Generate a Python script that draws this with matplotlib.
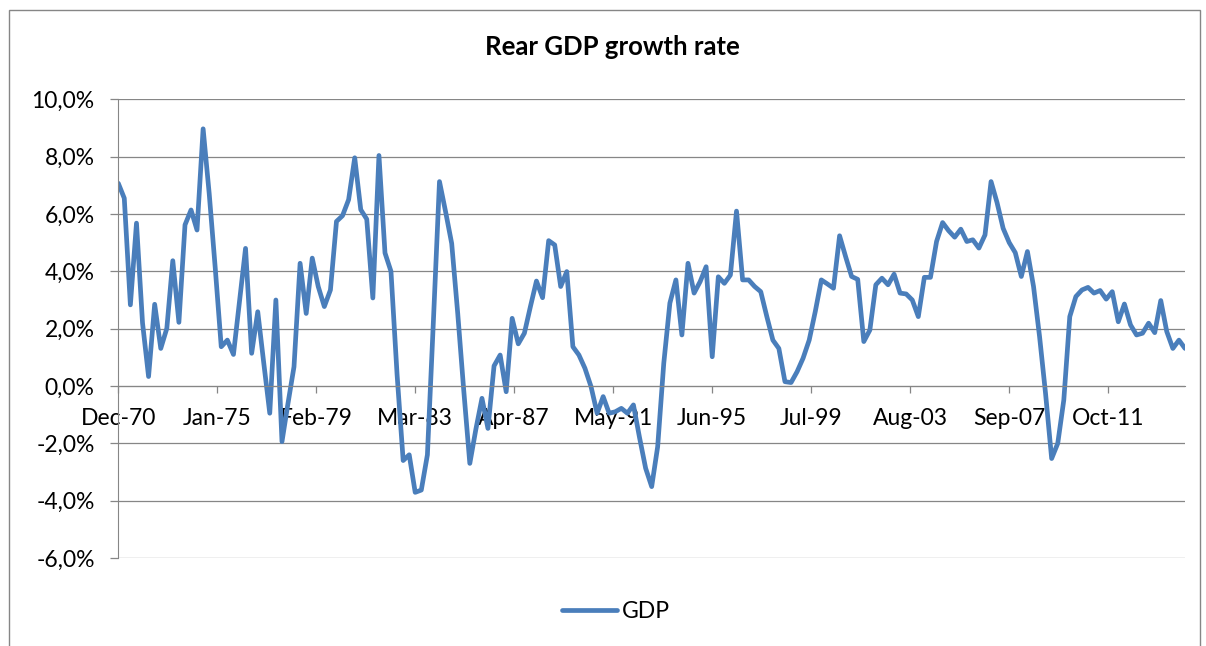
"""
Rear GDP growth rate, quarterly, Dec-70 to Dec-14 (Excel-style line chart)
"""
import pandas as pd

import matplotlib
matplotlib.use("agg")  # noqa: E402
import matplotlib.pyplot as plt
import matplotlib.dates as mdates
from matplotlib.patches import Rectangle
from matplotlib.ticker import FuncFormatter

plt.rcParams['font.family'] = ['Lato', 'DejaVu Sans']

TITLE = "Rear GDP growth rate"
SERIES_NAME = "GDP"
FIRST_QUARTER = "1970-12-01"
LAST_QUARTER = "2014-12-01"

# quarterly growth rate in %
gdp_growth = [
    7.07, 6.55, 2.83, 5.68, 2.2, 0.33, 2.85, 1.31, 2.01, 4.37,
    2.22, 5.62, 6.14, 5.44, 8.97, 6.7, 4.1, 1.37, 1.6, 1.1,
    2.94, 4.8, 1.14, 2.59, 0.79, -0.95, 3.0, -1.94, -0.6, 0.67,
    4.28, 2.53, 4.46, 3.47, 2.77, 3.35, 5.74, 5.94, 6.5, 7.96,
    6.15, 5.82, 3.07, 8.04, 4.64, 4.0, 0.4, -2.6, -2.4, -3.71,
    -3.63, -2.4, 2.3, 7.13, 6.08, 4.97, 2.53, -0.14, -2.7, -1.5,
    -0.43, -1.48, 0.7, 1.08, -0.2, 2.36, 1.47, 1.84, 2.77, 3.66,
    3.08, 5.07, 4.92, 3.47, 3.99, 1.37, 1.08, 0.62, -0.02, -0.95,
    -0.37, -0.95, -0.9, -0.78, -0.95, -0.66, -1.8, -2.87, -3.51, -2.12,
    0.79, 2.89, 3.7, 1.78, 4.28, 3.24, 3.64, 4.16, 1.02, 3.81,
    3.58, 3.87, 6.1, 3.7, 3.7, 3.47, 3.29, 2.42, 1.6, 1.31,
    0.15, 0.12, 0.5, 0.97, 1.6, 2.6, 3.7, 3.56, 3.41, 5.24,
    4.51, 3.82, 3.72, 1.55, 1.95, 3.53, 3.76, 3.53, 3.9, 3.24,
    3.21, 3.0, 2.42, 3.79, 3.79, 5.04, 5.7, 5.42, 5.19, 5.47,
    5.04, 5.1, 4.81, 5.27, 7.13, 6.4, 5.5, 5.0, 4.65, 3.82,
    4.69, 3.47, 1.72, -0.26, -2.53, -2.0, -0.49, 2.42, 3.12, 3.35,
    3.44, 3.24, 3.33, 3.03, 3.29, 2.24, 2.86, 2.13, 1.78, 1.84,
    2.19, 1.86, 2.98, 1.9, 1.31, 1.6, 1.31,
]

x_tick_labels = ["Dec-70", "Jan-75", "Feb-79", "Mar-83", "Apr-87", "May-91",
                 "Jun-95", "Jul-99", "Aug-03", "Sep-07", "Oct-11"]
y_ticks = [-6, -4, -2, 0, 2, 4, 6, 8, 10]

GRID = "#868686"
BLUE = "#4A7EBB"


def pct_comma(v, pos=None):
    return f"{v:.1f}%".replace(".", ",")


def main():
    quarters = pd.date_range(FIRST_QUARTER, LAST_QUARTER, freq="3MS")
    tick_dates = pd.to_datetime(x_tick_labels, format="%b-%y")

    W, H = 1206, 646
    fig = plt.figure(figsize=(W / 100, H / 100), dpi=100)
    left, right, top, bottom = 118.3, 1185, 99.3, 558
    ax = fig.add_axes([left / W, 1 - bottom / H,
                       (right - left) / W, (bottom - top) / H])

    ax.plot(quarters, gdp_growth, color=BLUE, lw=3.4,
            solid_joinstyle="round", solid_capstyle="round",
            label=SERIES_NAME)

    ax.set_xlim(quarters[0], quarters[-1])
    ax.set_ylim(y_ticks[0], y_ticks[-1])
    ax.set_yticks(y_ticks)
    ax.yaxis.set_major_formatter(FuncFormatter(pct_comma))
    ax.set_xticks(tick_dates)
    ax.xaxis.set_major_formatter(mdates.DateFormatter("%b-%y"))

    ax.yaxis.grid(True, color=GRID, lw=0.9)
    ax.set_axisbelow(True)
    for side in ("top", "right"):
        ax.spines[side].set_visible(False)
    ax.spines["bottom"].set_position(("data", 0))
    ax.spines["bottom"].set_color(GRID)
    ax.spines["left"].set_color(GRID)
    ax.tick_params(axis="y", length=6, width=0.9, color=GRID, pad=11,
                   labelsize=16.5)
    ax.tick_params(axis="x", length=5, width=0.9, color=GRID, pad=11,
                   labelsize=16.5)

    fig.text(0.508, 0.927, TITLE, ha="center", va="center",
             fontsize=18.5, fontweight="bold")

    fig.legend(loc="center", bbox_to_anchor=(0.511, 0.054), frameon=False,
               fontsize=16.5, handlelength=2.4, handletextpad=0.2)

    # chart area border
    fig.add_artist(Rectangle((9 / W, -0.1), (1200 - 9) / W, 1.1 - 10 / H,
                             transform=fig.transFigure, fill=False,
                             edgecolor=GRID, lw=1))

    fig.savefig("out.png", dpi=100)


if __name__ == '__main__':
    main()
